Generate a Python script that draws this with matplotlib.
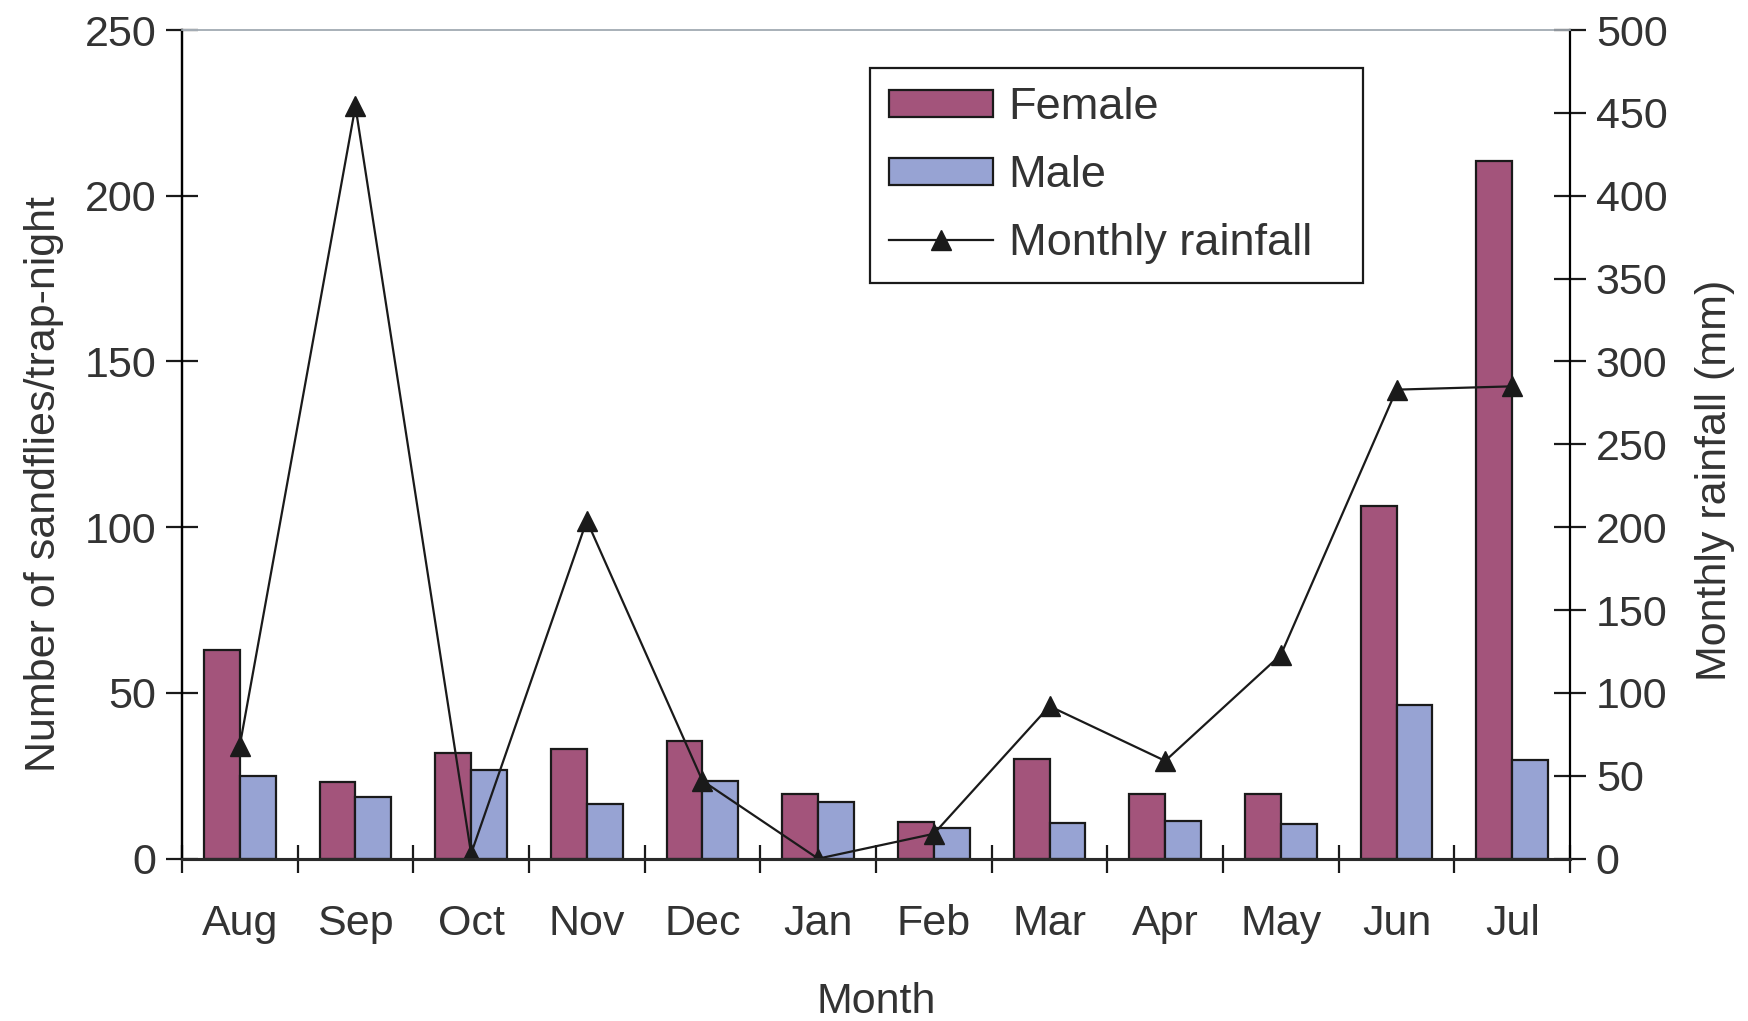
import numpy as np
from matplotlib import pyplot as plt

plt.rcParams['font.family'] = ['Liberation Sans', 'DejaVu Sans']

months = ['Aug', 'Sep', 'Oct', 'Nov', 'Dec', 'Jan', 'Feb', 'Mar', 'Apr', 'May', 'Jun', 'Jul']
female = [63, 23, 32, 33, 35.5, 19.5, 11, 30, 19.5, 19.5, 106.5, 210.5]
male = [25, 18.5, 26.7, 16.5, 23.5, 17.2, 9.3, 10.8, 11.5, 10.5, 46.5, 29.7]
rainfall = [68, 454, 3, 204, 47, 0, 15, 92, 59, 123, 283, 285]

text_col = '#333333'
fs = 31

fig = plt.figure(figsize=(17.49, 10.21), dpi=100)
ax = fig.add_axes([0.104, 0.159, 0.7937, 0.8116])
ax2 = ax.twinx()

x = np.arange(len(months))
w = 0.31
ax.bar(x - w / 2, female, w, color='#A3547B', edgecolor='#1a1a1a', linewidth=1.6, label='Female', zorder=2)
ax.bar(x + w / 2, male, w, color='#97A3D3', edgecolor='#1a1a1a', linewidth=1.6, label='Male', zorder=2)
ax2.plot(x, rainfall, color='#1a1a1a', linewidth=1.6, marker='^', markersize=14, label='Monthly rainfall')

ax.set_xlim(-0.5, len(months) - 0.5)
ax.set_ylim(0, 250)
ax2.set_ylim(0, 500)
ax.set_yticks(np.arange(0, 251, 50))
ax2.set_yticks(np.arange(0, 501, 50))

ax.set_xticks(x)
ax.set_xticklabels(months)
ax.set_xticks(np.arange(-0.5, len(months), 1), minor=True)
ax.tick_params(axis='x', which='major', length=0, pad=33, labelsize=fs, colors=text_col)
ax.tick_params(axis='x', which='minor', direction='inout', length=20, width=1.6, color='#1a1a1a')
ax.tick_params(axis='y', direction='inout', length=23, width=1.6, color='#1a1a1a', pad=7,
               labelsize=fs, labelcolor=text_col)
ax2.tick_params(axis='y', direction='inout', length=23, width=1.6, color='#1a1a1a', pad=7,
                labelsize=fs, labelcolor=text_col)

for a in (ax, ax2):
    a.spines['top'].set_color('#a8b0b8')
    a.spines['top'].set_linewidth(1.2)
    a.spines['left'].set_linewidth(1.6)
    a.spines['right'].set_linewidth(1.6)
    a.spines['bottom'].set_linewidth(2.2)
    a.spines['bottom'].set_color('#2a2a2a')
ax.spines['right'].set_visible(False)

ax.set_xlabel('Month', fontsize=fs, color=text_col, labelpad=27)
ax.set_ylabel('Number of sandflies/trap-night', fontsize=fs, color=text_col)
ax2.set_ylabel('Monthly rainfall (mm)', fontsize=fs, color=text_col)
ax.yaxis.set_label_coords(-0.085, 0.452)
ax2.yaxis.set_label_coords(1.09, 0.456)

# legend box stretched to the same width as the original one
h1, l1 = ax.get_legend_handles_labels()
h2, l2 = ax2.get_legend_handles_labels()
leg = ax2.legend(h1 + h2, l1 + l2, loc='upper left', bbox_to_anchor=(0.4957, 0.5, 0.355, 0.454),
                 mode='expand', borderaxespad=0, fontsize=32.5, fancybox=False, framealpha=1,
                 edgecolor='#1a1a1a', handlelength=2.3, handleheight=0.55, handletextpad=0.35,
                 labelspacing=0.6, borderpad=0.42)
leg.get_frame().set_linewidth(1.6)
for t in leg.get_texts():
    t.set_color(text_col)

fig.savefig('out.png', dpi=100)
